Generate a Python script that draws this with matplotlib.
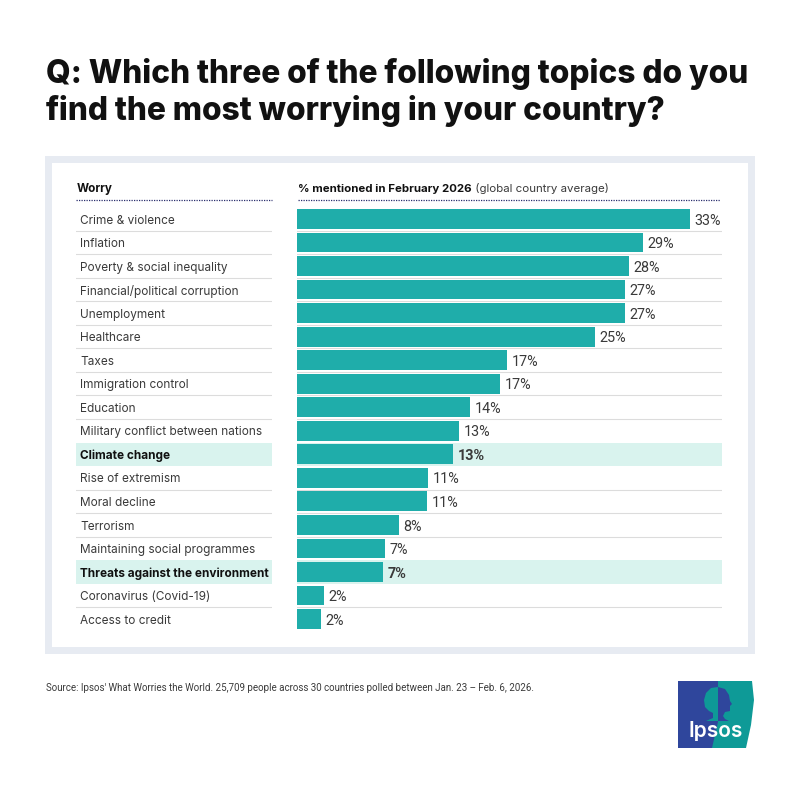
import matplotlib
matplotlib.use('Agg')  # no display
import matplotlib.pyplot as plt
from matplotlib.patches import Rectangle, Polygon

plt.rcParams['font.family'] = ['Inter', 'DejaVu Sans']

# data
worries = ['Crime & violence', 'Inflation', 'Poverty & social inequality',
           'Financial/political corruption', 'Unemployment', 'Healthcare',
           'Taxes', 'Immigration control', 'Education',
           'Military conflict between nations', 'Climate change',
           'Rise of extremism', 'Moral decline', 'Terrorism',
           'Maintaining social programmes', 'Threats against the environment',
           'Coronavirus (Covid-19)', 'Access to credit']
# bar lengths, slightly finer than the rounded labels
shares = [33.0, 29.0, 27.85, 27.5, 27.5, 25.0, 17.6, 17.05, 14.5,
          13.6, 13.1, 11.0, 10.9, 8.5, 7.4, 7.2, 2.2, 2.0]
share_labels = ['33%', '29%', '28%', '27%', '27%', '25%', '17%', '17%', '14%',
                '13%', '13%', '11%', '11%', '8%', '7%', '7%', '2%', '2%']
highlighted = ['Climate change', 'Threats against the environment']

TEAL = '#1fadaa'
PALE = '#d9f3ee'
INK = '#3a3a3a'
BLUE = '#2f469c'
LOGO_TEAL = '#0e9a97'
W, H = 800, 800
PX_PER_PCT = 11.91


def px_axes(fig, left, top, right, bottom):
    # axes placed using pixel positions measured from the top left
    return fig.add_axes([left / W, 1 - bottom / H, (right - left) / W, (bottom - top) / H])


fig = plt.figure(figsize=(8, 8), dpi=100, facecolor='white')

# background layer in pixels, for the frame, texts and logo
bg = fig.add_axes([0, 0, 1, 1])
bg.set_xlim(0, W)
bg.set_ylim(H, 0)
bg.axis('off')
bg.add_patch(Rectangle((45, 156), 710, 498, fc='#e7ebf2', ec='none'))
bg.add_patch(Rectangle((52, 163), 696, 484, fc='white', ec='none'))

bg.text(46, 83, 'Q: Which three of the following topics do you', fontsize=22.8,
        fontweight='heavy', color='#111111', va='baseline', ha='left')
bg.text(46, 120, 'find the most worrying in your country?', fontsize=22.8,
        fontweight='heavy', color='#111111', va='baseline', ha='left')

# column headers
bg.text(77, 192, 'Worry', fontsize=8.4, fontweight='bold', color='#111111', va='baseline')
head = bg.text(298, 192, '% mentioned in February 2026', fontsize=8.25,
               fontweight='bold', color='#111111', va='baseline')
bg.annotate(' (global country average)', xy=(1, 0), xycoords=head, fontsize=8.25,
            color=INK, va='bottom')
bg.plot([76, 272], [199.5, 199.5], color='#2a2f6e', lw=0.9, ls=(0, (1, 1)))
bg.plot([298, 720], [199.5, 199.5], color='#2a2f6e', lw=0.9, ls=(0, (1, 1)))

# left table and bars share the category axis
rows = list(range(len(worries)))
ax_lab = px_axes(fig, 76, 207.2, 272, 630.8)
ax_bar = px_axes(fig, 297.3, 207.2, 722, 630.8)
for ax in (ax_lab, ax_bar):
    ax.set_ylim(len(worries) - 0.5, -0.5)
    ax.axis('off')
    ax.patch.set_alpha(0)
ax_lab.set_xlim(0, 1)
ax_bar.set_xlim(0, 424.7 / PX_PER_PCT)

for i, (name, share, lab) in enumerate(zip(worries, shares, share_labels)):
    hot = name in highlighted
    weight = 'bold' if hot else 'normal'
    if hot:
        ax_lab.axhspan(i - 0.5, i + 0.5, color=PALE, lw=0)
        ax_bar.axhspan(i - 0.5, i + 0.5, color=PALE, lw=0)
    elif i < len(worries) - 1 and worries[i + 1] not in highlighted:
        ax_lab.axhline(i + 0.5, color='#dcdcdc', lw=0.8)
        ax_bar.axhline(i + 0.5, color='#dcdcdc', lw=0.8)
    ax_lab.text(0.02, i + 0.07, name, fontsize=8.5, fontweight=weight,
                color='#111111' if hot else INK, va='center', ha='left')
    ax_bar.text(share + 0.38, i + 0.07, lab, fontsize=10.4, fontweight=weight, color=INK,
                family=['Roboto', 'DejaVu Sans'], va='center', ha='left', clip_on=False)
ax_bar.barh(rows, shares, height=0.84, color=TEAL, zorder=3)

# footnote
bg.text(46, 688, "Source: Ipsos' What Worries the World. 25,709 people across 30 countries "
        "polled between Jan. 23 \u2013 Feb. 6, 2026.", fontsize=7.05, color=INK,
        family=['Roboto', 'DejaVu Sans'], va='center')

# Ipsos logo
bg.add_patch(Polygon([(716, 681), (752, 681), (754, 700), (751, 725), (746, 748), (710, 748)],
                     fc=LOGO_TEAL, ec='none'))
bg.add_patch(Polygon([(678, 681), (718, 681), (718, 722), (712, 748), (678, 748)],
                     fc=BLUE, ec='none'))
# head silhouette, teal half on the blue and blue half on the teal
bg.add_patch(Polygon([(718, 687), (711, 688), (706, 693), (704, 700), (705, 707), (709, 711),
                      (713, 713), (713, 718), (706, 721), (718, 721)], fc=LOGO_TEAL, ec='none'))
bg.add_patch(Polygon([(718, 687), (725, 689), (729, 695), (730, 701), (732, 704), (730, 706),
                      (730, 711), (725, 712), (723, 716), (725, 719), (729, 721), (718, 721)],
                     fc=BLUE, ec='none'))
bg.text(716, 731, 'Ipsos', fontsize=15, fontweight='semibold', color='white',
        ha='center', va='center')

fig.savefig('out.png', dpi=100)
